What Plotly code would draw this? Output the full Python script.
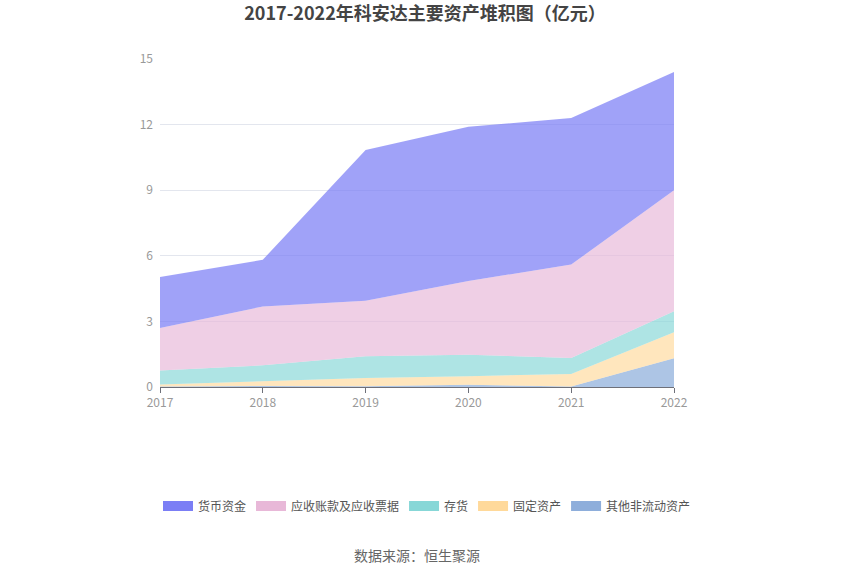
import plotly.graph_objects as go

years = [2017, 2018, 2019, 2020, 2021, 2022]
money = [2.33, 2.14, 6.90, 7.05, 6.70, 5.40]          # 货币资金
receivables = [1.94, 2.69, 2.53, 3.37, 4.27, 5.54]    # 应收账款及应收票据
inventory = [0.64, 0.71, 1.00, 0.99, 0.73, 0.96]      # 存货
fixed_assets = [0.10, 0.23, 0.38, 0.39, 0.58, 1.19]   # 固定资产
other_noncurrent = [0.02, 0.05, 0.03, 0.10, 0.02, 1.31]  # 其他非流动资产

# bottom -> top stacking order
series = [
    ("其他非流动资产", other_noncurrent, "rgba(142,174,219,0.72)", "#8eaedb"),
    ("固定资产", fixed_assets, "rgba(255,217,154,0.65)", "#ffd99a"),
    ("存货", inventory, "rgba(135,215,215,0.68)", "#87d7d7"),
    ("应收账款及应收票据", receivables, "rgba(232,184,216,0.68)", "#e8b8d8"),
    ("货币资金", money, "rgba(123,126,245,0.72)", "#7b7ef5"),
]

font_family = "Noto Sans CJK SC, Noto Sans, sans-serif"

fig = go.Figure()
for name, vals, color, _ in series:
    fig.add_trace(go.Scatter(
        x=years, y=vals, name=name, mode="lines",
        stackgroup="one", line=dict(width=0, color=color),
        fillcolor=color, hoverinfo="x+y+name", showlegend=False,
    ))

# legend entries (top series first)
for name, _, _, solid in reversed(series):
    fig.add_trace(go.Scatter(
        x=[None], y=[None], name=name, mode="lines",
        line=dict(width=14, color=solid), hoverinfo="skip",
    ))

fig.update_layout(
    width=850, height=575,
    paper_bgcolor="white", plot_bgcolor="white",
    margin=dict(l=160, r=176, t=59, b=188, autoexpand=False),
    font=dict(family=font_family, size=12, color="#999999"),
    title=dict(
        text="<b>2017-2022年科安达主要资产堆积图（亿元）</b>",
        x=0.5, xanchor="center", y=1 - 14 / 575, yanchor="middle",
        font=dict(size=18, color="#444444", family=font_family),
    ),
    xaxis=dict(
        range=[2017, 2022], tickvals=years, ticktext=[str(y) for y in years],
        showgrid=False, showline=True, linecolor="#6e7079", linewidth=1,
        ticks="outside", tickcolor="#6e7079", ticklen=5,
        tickfont=dict(size=12, color="#999999"), zeroline=False,
    ),
    yaxis=dict(
        range=[0, 15], tickvals=[0, 3, 6, 9, 12, 15],
        showgrid=True, gridcolor="#e3e6ee", gridwidth=1,
        showline=False, zeroline=False, ticks="",
        tickfont=dict(size=12, color="#999999"), ticklabelstandoff=6,
    ),
    legend=dict(
        orientation="h", x=(696 - 160) / 514, xanchor="right",
        y=(387 - 506) / 328, yanchor="middle",
        traceorder="normal", font=dict(size=12, color="#555555"),
        itemwidth=30,
    ),
    annotations=[dict(
        text="数据来源：恒生聚源", x=0.5, xref="paper", y=(387 - 555) / 328, yref="paper",
        xanchor="center", yanchor="middle", showarrow=False,
        font=dict(size=14, color="#666666", family=font_family),
    )],
)

fig.write_html("out.html", config={"displayModeBar": False},
               post_script="document.body.style.margin='0';")
